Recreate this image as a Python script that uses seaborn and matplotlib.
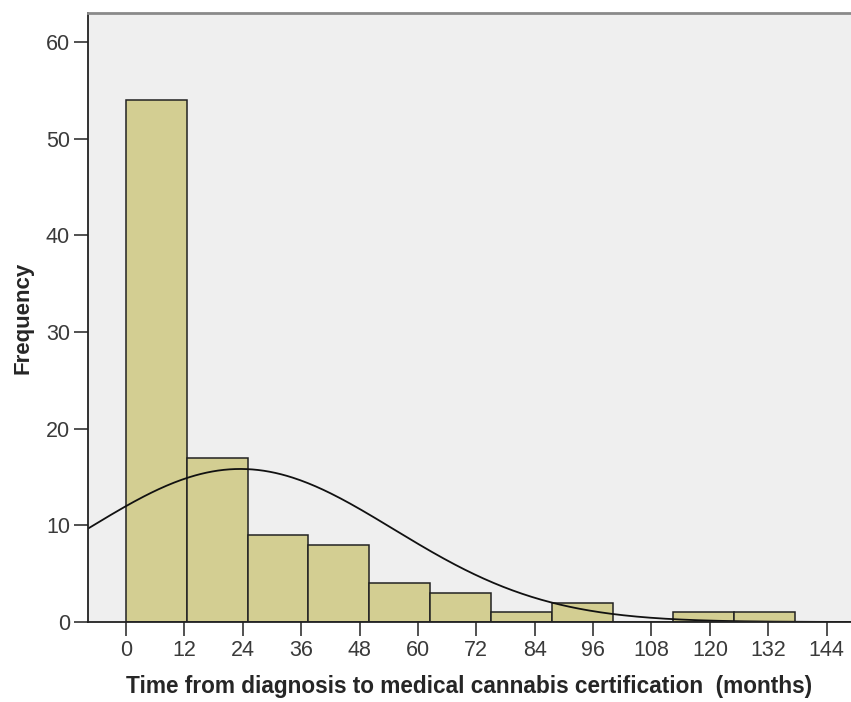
import numpy as np
import pandas as pd
import matplotlib
matplotlib.use("Agg")
import matplotlib.pyplot as plt
import seaborn as sns

# histogram bins (months) and counts
bin_edges = [0, 12.5, 25, 37.5, 50, 62.5, 75, 87.5, 100, 112.5, 125, 137.5]
counts = [54, 17, 9, 8, 4, 3, 1, 2, 0, 1, 1]
x_ticks = [0, 12, 24, 36, 48, 60, 72, 84, 96, 108, 120, 132, 144]
y_ticks = [0, 10, 20, 30, 40, 50, 60]

# fitted normal curve parameters (SPSS style)
fit_mean = 23.5
fit_sd = 31.5
n_total = sum(counts)

sns.set_style("white")
plt.rcParams["font.family"] = ["Liberation Sans", "DejaVu Sans"]

mids = [(a + b) / 2 for a, b in zip(bin_edges[:-1], bin_edges[1:])]
df = pd.DataFrame({"months": mids, "n": counts})

fig = plt.figure(figsize=(8.51, 7.02), dpi=100)
ax = fig.add_axes([88 / 851, 1 - 622 / 702, 1 - 88 / 851, (622 - 13) / 702])
ax.set_facecolor("#efefef")

sns.histplot(data=df, x="months", weights="n", bins=bin_edges, ax=ax,
             color="#d3ce92", alpha=1, edgecolor="#222222", linewidth=1.1)

xmin, xmax = -7.8, 149
width = bin_edges[1] - bin_edges[0]
xs = np.linspace(xmin, xmax, 400)
curve = n_total * width / (fit_sd * np.sqrt(2 * np.pi)) * np.exp(-0.5 * ((xs - fit_mean) / fit_sd) ** 2)
sns.lineplot(x=xs, y=curve, ax=ax, color="#111111", linewidth=1.3)

ax.set_xlim(xmin, xmax)
ax.set_ylim(0, 63)
ax.set_xticks(x_ticks)
ax.set_yticks(y_ticks)
ax.tick_params(axis="both", direction="out", length=10, width=1.2, color="#333333",
               labelsize=15.5, labelcolor="#3a3a3a", pad=3)
ax.tick_params(axis="x", bottom=True)
ax.tick_params(axis="y", left=True)

for side in ["left", "bottom"]:
    ax.spines[side].set_color("#222222")
    ax.spines[side].set_linewidth(1.3)
ax.spines["top"].set_color("#8a8a8a")
ax.spines["top"].set_linewidth(2)
ax.spines["right"].set_visible(False)

ax.set_xlabel("Time from diagnosis to medical cannabis certification  (months)",
              fontsize=16.3, fontweight="bold", labelpad=10)
ax.set_ylabel("Frequency", fontsize=16, fontweight="bold", labelpad=9)

fig.savefig("out.png", dpi=100)
